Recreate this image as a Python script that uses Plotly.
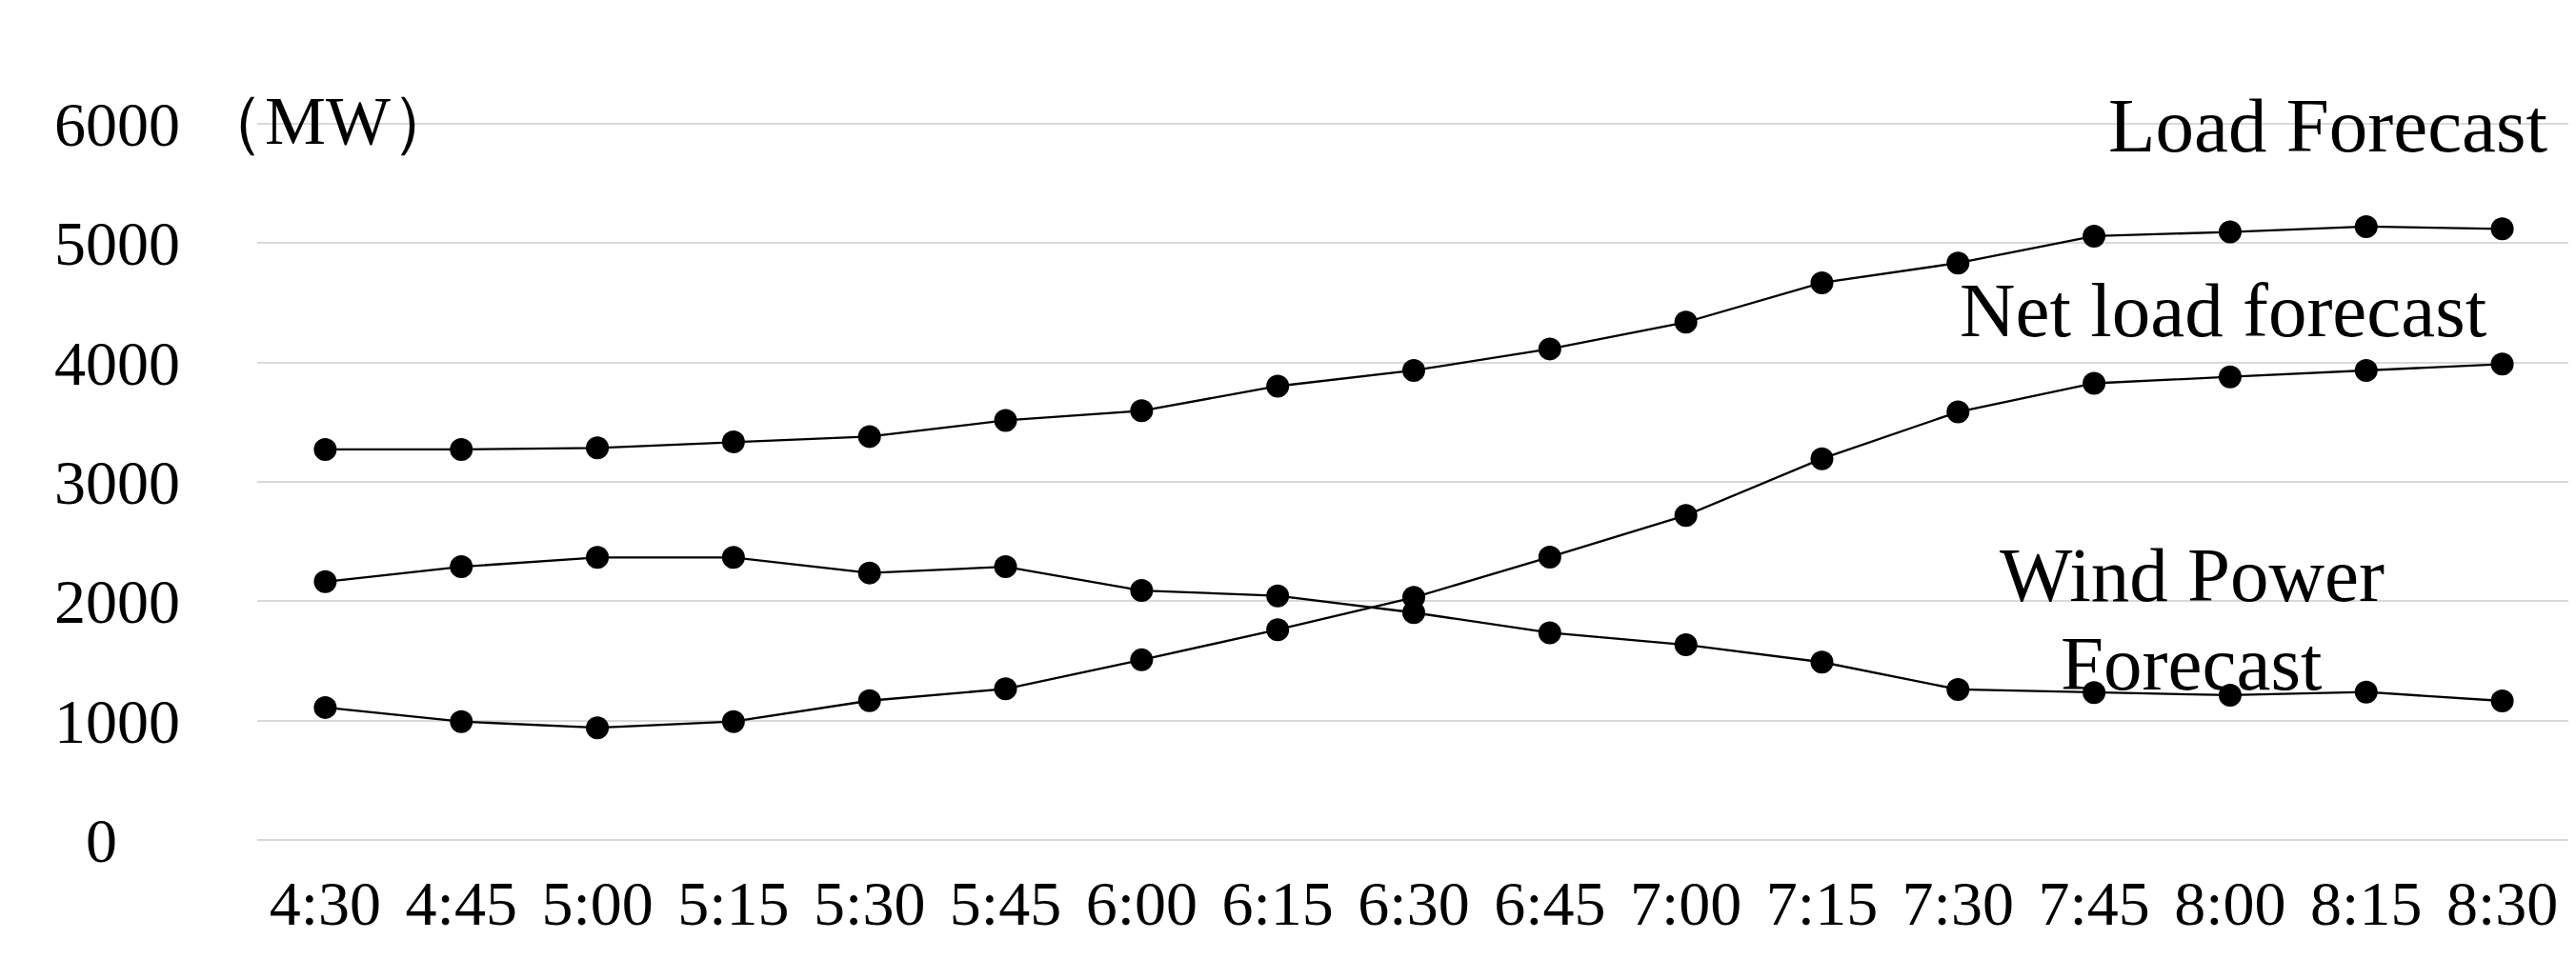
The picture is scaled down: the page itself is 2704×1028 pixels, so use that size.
import plotly.graph_objects as go

times = ["4:30", "4:45", "5:00", "5:15", "5:30", "5:45", "6:00", "6:15", "6:30",
         "6:45", "7:00", "7:15", "7:30", "7:45", "8:00", "8:15", "8:30"]
load_forecast = [3272, 3272, 3285, 3335, 3380, 3515, 3596, 3802, 3934,
                 4114, 4338, 4668, 4834, 5059, 5094, 5139, 5120]
wind_forecast = [2164, 2289, 2367, 2367, 2237, 2289, 2090, 2045, 1905,
                 1736, 1635, 1490, 1261, 1234, 1213, 1239, 1165]
net_load_forecast = [1110, 992, 940, 992, 1167, 1266, 1509, 1762, 2032,
                     2370, 2719, 3194, 3586, 3826, 3880, 3933, 3987]
y_tick_vals = [0, 1000, 2000, 3000, 4000, 5000, 6000]
y_tick_text = ["0\u00a0\u00a0\u00a0\u00a0", "1000", "2000", "3000", "4000", "5000", "6000"]

FONT = "Liberation Serif, Times New Roman, serif"

L, R, T, B = 262, 14, 120, 154
W, H = 2704, 1028
plot_w = W - L - R
plot_h = H - T - B


def px_to_paper(px, py):
    return (px - L) / plot_w, (H - B - py) / plot_h


fig = go.Figure()
for name, vals in [("Load Forecast", load_forecast),
                   ("Wind Power Forecast", wind_forecast),
                   ("Net load forecast", net_load_forecast)]:
    fig.add_trace(go.Scatter(
        x=times, y=vals, name=name, mode="lines+markers",
        line=dict(color="black", width=2.3),
        marker=dict(color="black", size=24, symbol="circle"),
        showlegend=False, cliponaxis=False,
    ))

fig.update_layout(
    width=W, height=H,
    margin=dict(l=L, r=R, t=T, b=B),
    paper_bgcolor="white", plot_bgcolor="white",
    font=dict(family=FONT, color="black", size=66),
)
fig.update_xaxes(
    type="category", range=[-0.5, 16.5], showgrid=False, showline=False,
    zeroline=False, ticks="", ticklabelstandoff=22,
    tickfont=dict(family=FONT, size=66, color="black"),
)
fig.update_yaxes(
    range=[0, 6016], tickvals=y_tick_vals, ticktext=y_tick_text,
    showgrid=True, gridcolor="#d9d9d9", gridwidth=2.2, showline=False,
    zeroline=True, zerolinecolor="#d9d9d9", zerolinewidth=2.2,
    ticks="", ticklabelstandoff=80,
    tickfont=dict(family=FONT, size=66, color="black"),
)

ann_font = dict(family=FONT, size=81, color="black")
fig.add_annotation(x=14.72, y=5985, xref="x", yref="y", text="Load Forecast",
                   showarrow=False, font=ann_font, xanchor="center", yanchor="middle")
fig.add_annotation(x=13.95, y=4440, xref="x", yref="y", text="Net load forecast",
                   showarrow=False, font=ann_font, xanchor="center", yanchor="middle")
fig.add_annotation(x=13.72, y=2217, xref="x", yref="y", text="Wind Power",
                   showarrow=False, font=ann_font, xanchor="center", yanchor="middle")
fig.add_annotation(x=13.72, y=1475, xref="x", yref="y", text="Forecast",
                   showarrow=False, font=ann_font, xanchor="center", yanchor="middle")

mx, my = px_to_paper(196, 119)
fig.add_annotation(x=mx, y=my, xref="paper", yref="paper", text="（MW）",
                   showarrow=False, font=dict(family=FONT, size=72, color="black"),
                   xanchor="left", yanchor="middle")

fig.write_html("out.html")
